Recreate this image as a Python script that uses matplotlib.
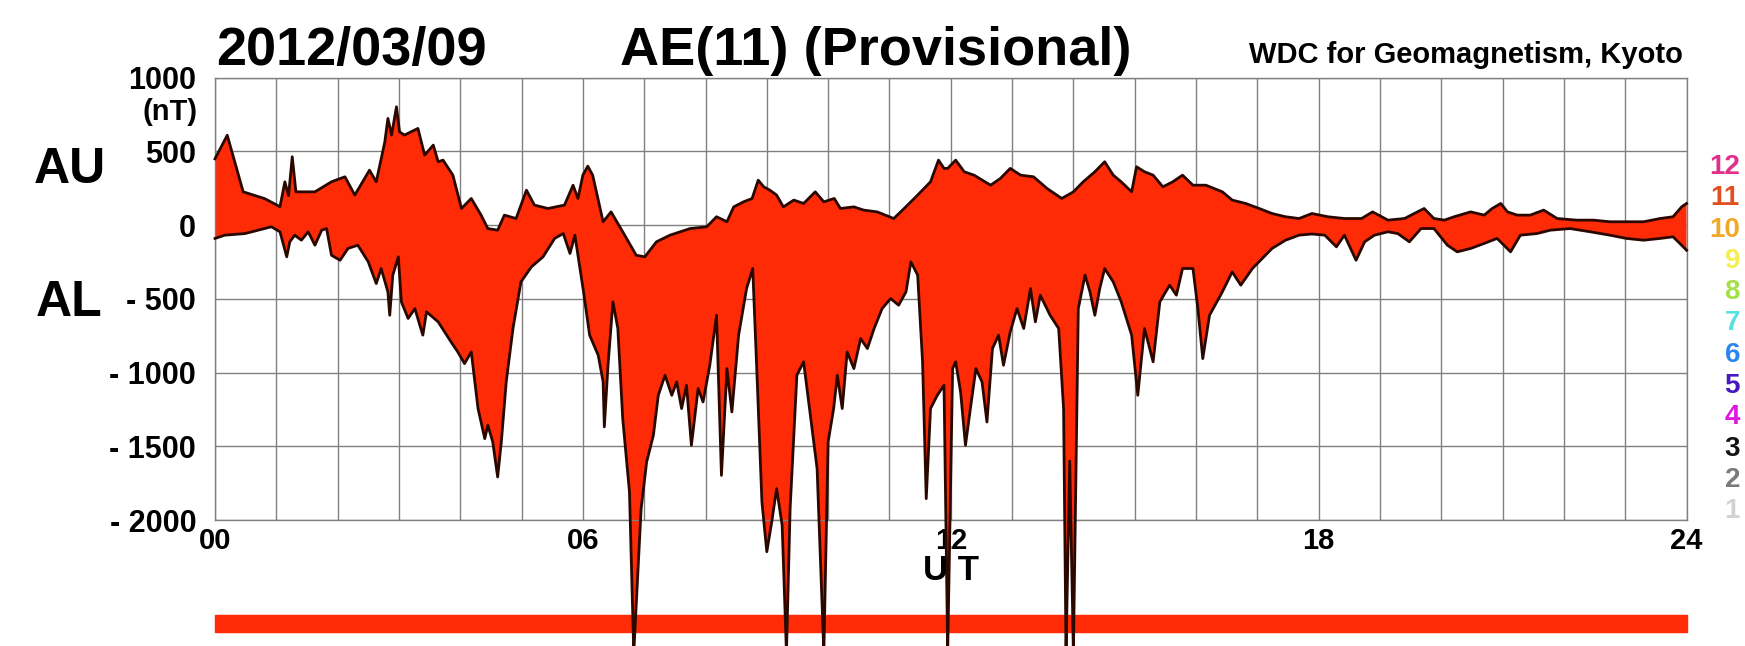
import numpy as np
import matplotlib.pyplot as plt

plt.rcParams['font.family'] = ['Liberation Sans', 'DejaVu Sans']
plt.rcParams['font.weight'] = 'bold'

# AU (upper envelope), hours UT / nT
au_t = [0.00, 0.20, 0.46, 0.81, 1.06, 1.14, 1.20, 1.26, 1.32, 1.63, 1.90, 2.12, 2.28, 2.52,
        2.63, 2.77, 2.82, 2.88, 2.96, 3.01, 3.09, 3.31, 3.42, 3.56, 3.64, 3.72, 3.88, 4.02,
        4.18, 4.34, 4.45, 4.61, 4.72, 4.91, 5.08, 5.21, 5.43, 5.70, 5.84, 5.92, 6.00, 6.08,
        6.16, 6.33, 6.46, 6.65, 6.87, 7.01, 7.20, 7.42, 7.75, 8.02, 8.18, 8.35, 8.46, 8.62,
        8.76, 8.86, 8.95, 9.05, 9.16, 9.27, 9.44, 9.60, 9.79, 9.93, 10.10, 10.20, 10.42,
        10.58, 10.80, 11.07, 11.24, 11.46, 11.67, 11.80, 11.89, 11.95, 12.08, 12.22, 12.38,
        12.65, 12.81, 12.97, 13.14, 13.35, 13.57, 13.81, 14.00, 14.16, 14.35, 14.51, 14.65,
        14.78, 14.95, 15.03, 15.16, 15.30, 15.46, 15.62, 15.78, 15.95, 16.16, 16.43, 16.59,
        16.81, 17.03, 17.24, 17.46, 17.68, 17.89, 18.15, 18.42, 18.70, 18.88, 19.13, 19.40,
        19.61, 19.72, 19.88, 20.05, 20.21, 20.48, 20.70, 20.83, 20.97, 21.08, 21.24, 21.45,
        21.67, 21.89, 22.21, 22.48, 22.75, 23.02, 23.30, 23.57, 23.78, 23.92, 24.00]
au_v = [450, 610, 226, 180, 125, 294, 200, 464, 226, 226, 294, 328, 204, 373,
        294, 565, 724, 611, 803, 633, 611, 656, 475, 543, 430, 441, 339, 113,
        181, 68, -23, -34, 68, 45, 237, 136, 113, 136, 271, 181, 339, 400,
        339, 23, 90, -45, -204, -215, -113, -68, -23, -11, 57, 23, 124, 158,
        181, 305, 260, 237, 204, 124, 170, 147, 226, 158, 181, 113, 124,
        102, 90, 45, 113, 204, 294, 441, 385, 385, 441, 362, 339,
        271, 317, 385, 339, 328, 249, 181, 226, 294, 362, 430, 339,
        294, 226, 396, 362, 339, 260, 294, 339, 271, 271, 226, 170,
        147, 113, 79, 57, 45, 79, 57, 45, 45, 90, 34, 45,
        90, 113, 45, 34, 57, 90, 68, 113, 147, 90, 68, 68,
        102, 45, 34, 34, 23, 23, 23, 45, 57, 124, 147]

# AL (lower envelope), hours UT / nT
al_t = [0.00, 0.16, 0.49, 0.92, 1.06, 1.17, 1.22, 1.30, 1.41, 1.52, 1.63, 1.74, 1.82, 1.90,
        2.04, 2.17, 2.33, 2.50, 2.63, 2.71, 2.82, 2.85, 2.90, 2.99, 3.04, 3.15, 3.26, 3.39,
        3.45, 3.64, 3.85, 3.96, 4.07, 4.18, 4.29, 4.40, 4.45, 4.53, 4.61, 4.67, 4.75, 4.86,
        4.99, 5.16, 5.35, 5.54, 5.68, 5.79, 5.87, 6.01, 6.11, 6.25, 6.33, 6.35, 6.41, 6.49,
        6.57, 6.65, 6.76, 6.83, 6.95, 7.04, 7.15, 7.23, 7.34, 7.45, 7.53, 7.61, 7.69, 7.77,
        7.88, 7.96, 8.07, 8.18, 8.26, 8.35, 8.43, 8.54, 8.67, 8.77, 8.84, 8.92, 9.00, 9.08,
        9.16, 9.25, 9.32, 9.38, 9.49, 9.60, 9.71, 9.82, 9.93, 10.00, 10.09, 10.15, 10.23,
        10.31, 10.42, 10.53, 10.64, 10.75, 10.88, 11.02, 11.15, 11.27, 11.35, 11.46, 11.54,
        11.60, 11.67, 11.78, 11.89, 11.95, 12.03, 12.08, 12.16, 12.24, 12.32, 12.41, 12.51,
        12.59, 12.68, 12.78, 12.86, 12.97, 13.08, 13.19, 13.30, 13.38, 13.46, 13.62, 13.76,
        13.84, 13.88, 13.94, 14.00, 14.08, 14.19, 14.27, 14.35, 14.43, 14.51, 14.65, 14.78,
        14.95, 15.05, 15.16, 15.30, 15.41, 15.57, 15.68, 15.78, 15.95, 16.03, 16.11, 16.22,
        16.43, 16.59, 16.73, 16.92, 17.08, 17.24, 17.46, 17.68, 17.89, 18.10, 18.29, 18.42,
        18.61, 18.75, 18.91, 19.13, 19.29, 19.48, 19.67, 19.88, 20.10, 20.26, 20.48, 20.70,
        20.91, 21.13, 21.29, 21.56, 21.78, 22.10, 22.43, 22.75, 23.02, 23.30, 23.57, 23.78,
        23.92, 24.00]
al_v = [-90, -68, -57, -11, -45, -215, -113, -68, -102, -45, -136, -34, -23, -204,
        -238, -158, -136, -249, -396, -294, -452, -611, -339, -215, -520, -633, -566, -746,
        -588, -656, -792, -860, -939, -860, -1244, -1448, -1357, -1470, -1708, -1470, -1063, -701,
        -385, -283, -215, -90, -57, -192, -68, -450, -746, -882, -1063, -1368, -950, -520,
        -700, -1312, -1810, -2900, -1923, -1606, -1425, -1154, -1018, -1154, -1063, -1244, -1086, -1493,
        -1108, -1199, -950, -611, -1697, -973, -1267, -746, -430, -294, -1018, -1877, -2215, -2013,
        -1787, -2036, -2900, -1923, -1018, -927, -1289, -1651, -2900, -1470, -1244, -1018, -1244,
        -860, -973, -769, -837, -701, -566, -498, -543, -452, -249, -339, -927,
        -1855, -1244, -1154, -1086, -2900, -973, -927, -1131, -1493, -1244, -973, -1063,
        -1335, -837, -746, -950, -724, -566, -701, -430, -656, -475, -611, -701,
        -1244, -2900, -1600, -2900, -566, -339, -452, -611, -430, -294, -385, -520,
        -746, -1154, -701, -927, -520, -407, -475, -294, -294, -566, -905, -611,
        -452, -317, -407, -294, -226, -158, -102, -68, -60, -68, -147, -68,
        -238, -113, -68, -45, -57, -113, -23, -23, -136, -181, -158, -124,
        -90, -181, -68, -57, -34, -23, -45, -68, -90, -102, -90, -79,
        -136, -170]

y_ticks = [-2000, -1500, -1000, -500, 0, 500, 1000]
y_labels = ['- 2000', '- 1500', '- 1000', '- 500', '0', '500', '1000']
x_ticks = [0, 6, 12, 18, 24]
x_labels = ['00', '06', '12', '18', '24']
coverage = [(0, 24)]

station_nums = ['12', '11', '10', '9', '8', '7', '6', '5', '4', '3', '2', '1']
station_colors = ['#e0308a', '#e05020', '#f0a828', '#f4ee50', '#a6e048', '#58e0e0',
                  '#2a86ee', '#4818c0', '#e018e0', '#141414', '#7a7a7a', '#d2d2d2']

fill_color = '#ff2a06'
edge_color = '#2a0800'

fig = plt.figure(figsize=(17.45, 6.46), dpi=100)
ax = fig.add_axes([0.1232, 0.195, 0.8433, 0.6847])

ax.set_xlim(0, 24)
ax.set_ylim(-2000, 1000)
ax.set_axisbelow(True)
ax.set_xticks(np.arange(0, 25, 1), minor=True)
ax.grid(True, which='minor', axis='x', color='#808080', lw=1.0)
ax.grid(True, which='major', axis='both', color='#808080', lw=1.0)
ax.tick_params(which='both', length=0)
ax.set_xticks(x_ticks)
ax.set_xticklabels(x_labels, fontsize=21, fontweight='bold')
ax.set_yticks(y_ticks)
ax.set_yticklabels(y_labels, fontsize=22, fontweight='bold')
ax.tick_params(axis='y', pad=13.5)
ax.tick_params(axis='x', pad=5)
for s in ax.spines.values():
    s.set_color('#808080')
    s.set_linewidth(1.0)

# filled band between AU and AL, not clipped (spikes run past the frame)
poly_x = np.concatenate([au_t, al_t[::-1]])
poly_y = np.concatenate([au_v, al_v[::-1]])
ax.fill(poly_x, poly_y, color=fill_color, lw=0, zorder=2, clip_on=False)
ax.plot(au_t, au_v, color=edge_color, lw=2.0, zorder=3, clip_on=False)
ax.plot(al_t, al_v, color=edge_color, lw=2.0, zorder=3, clip_on=False)

# data coverage bar under the plot
ax.broken_barh(coverage, (-0.253, 0.038), transform=ax.get_xaxis_transform(),
               color=fill_color, clip_on=False, zorder=1)

fig.text(216 / 1745, 1 - 65 / 646, '2012/03/09', fontsize=39, fontweight='bold',
         ha='left', va='baseline')
fig.text(876 / 1745, 1 - 65 / 646, 'AE(11) (Provisional)', fontsize=39, fontweight='bold',
         ha='center', va='baseline')
fig.text(1683 / 1745, 1 - 63 / 646, 'WDC for Geomagnetism, Kyoto', fontsize=21,
         fontweight='bold', ha='right', va='baseline')
fig.text(70 / 1745, 1 - 170 / 646, 'AU', fontsize=36, fontweight='bold', ha='center', va='center')
fig.text(69 / 1745, 1 - 303 / 646, 'AL', fontsize=36, fontweight='bold', ha='center', va='center')
fig.text(198 / 1745, 1 - 112 / 646, '(nT)', fontsize=21, fontweight='bold', ha='right', va='center')
fig.text(951 / 1745, 1 - 570 / 646, 'U T', fontsize=25, fontweight='bold', ha='center', va='center')

for i, (num, col) in enumerate(zip(station_nums, station_colors)):
    fig.text(1740 / 1745, 1 - (167 + i * 31.3) / 646, num, fontsize=20, fontweight='bold',
             color=col, ha='right', va='center')

fig.savefig('out.png', dpi=100, facecolor='white')
